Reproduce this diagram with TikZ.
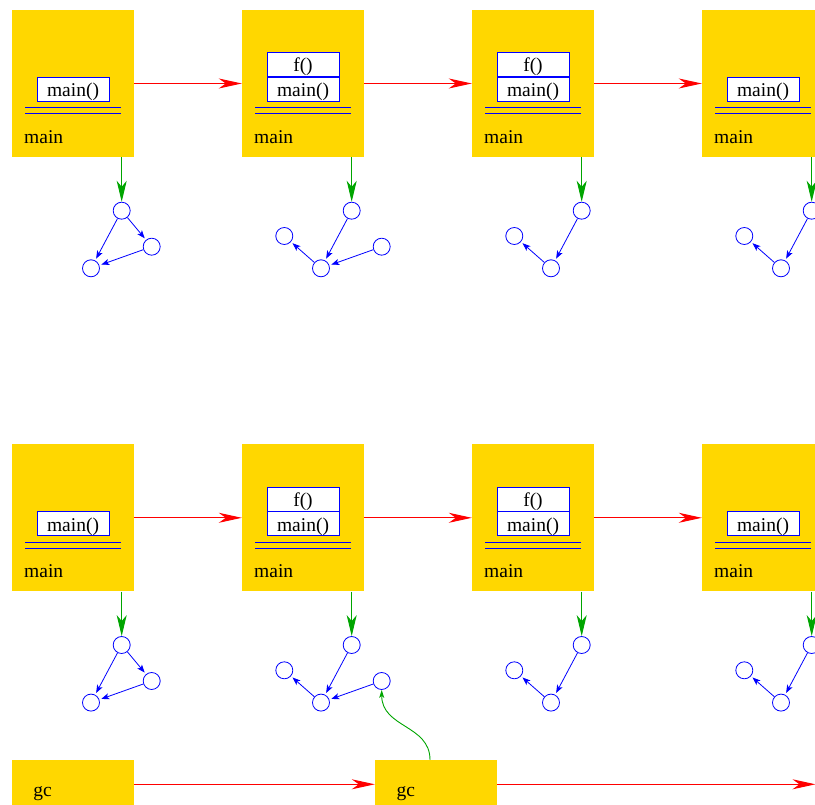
\documentclass[tikz,border=0pt]{standalone}
\usepackage{fontspec}
\setmainfont{Liberation Serif}
\usetikzlibrary{arrows.meta}
\definecolor{boxyellow}{RGB}{255,215,0}
\definecolor{ptrgreen}{RGB}{0,165,0}
\begin{document}
\begin{tikzpicture}[x=1pt,y=-1pt,
  frame/.style={fill=boxyellow, draw=none, minimum width=122pt, minimum height=147pt, inner sep=0pt},
  gcbox/.style={fill=boxyellow, draw=none, minimum width=122pt, minimum height=90pt, inner sep=0pt},
  cell/.style={draw=blue, fill=white, line width=0.8pt, minimum width=72pt, minimum height=24pt, inner sep=0pt},
  celltext/.style={anchor=base, inner sep=0pt, font=\fontsize{19.5}{22}\selectfont},
  lbl/.style={anchor=base west, inner sep=0pt, font=\fontsize{19.5}{22}\selectfont},
  dbl/.style={draw=blue, line width=1pt},
  obj/.style={circle, draw=blue, line width=0.8pt, minimum size=17pt, inner sep=0pt},
  bluearr/.style={draw=blue, line width=0.8pt, -{Stealth[length=8pt,width=6pt,inset=2pt]}, shorten >=2pt},
  redarr/.style={draw=red, line width=1pt, -{Stealth[length=23pt,width=10pt,inset=7pt]}},
  grnarr/.style={draw=ptrgreen, line width=1pt, -{Stealth[length=21pt,width=10pt,inset=6pt]}},
  gcarr/.style={draw=ptrgreen, line width=0.9pt, -{Stealth[length=8pt,width=5pt,inset=2pt]}}]
\clip (0,0) rectangle (815,805);
% ---------- shapes and connectors ----------
\foreach \r/\yo in {0/0,1/434.3}{
  \foreach \i in {1,2,3,4}{
    \pgfmathsetmacro\xo{(\i-1)*230}
    \node[frame] (b\r\i) at ({73+\xo},{83.5+\yo}) {};
    \node[cell] (m\r\i) at ({73+\xo},{89.5+\yo}) {};
    \coordinate (dl\r\i) at ({25+\xo},{107.7+\yo});
    \coordinate (dr\r\i) at ({121+\xo},{107.7+\yo});
    \draw[dbl] (dl\r\i) -- (dr\r\i) ([yshift=-6.2pt]dl\r\i) -- ([yshift=-6.2pt]dr\r\i);
    \node[obj] (t\r\i) at ({121.7+\xo},{210.7+\yo}) {};
    \node[obj] (o\r\i) at ({91+\xo},{268.3+\yo}) {};
    \draw[grnarr] (b\r\i.south -| t\r\i.north) -- (t\r\i.north);
    \draw[bluearr] (t\r\i) -- (o\r\i);
  }
  \foreach \i in {2,3}{
    \node[cell, anchor=south] (f\r\i) at (m\r\i.north) {};
  }
  \foreach \i/\j in {1/2,2/3,3/4}{
    \draw[redarr] (b\r\i.east) -- (b\r\j.west);
  }
  \node[obj] (q\r1) at (151.7,{246.7+\yo}) {};
  \draw[bluearr] (t\r1) -- (q\r1);
  \draw[bluearr] (q\r1) -- (o\r1);
  \node[obj] (q\r2) at (381.7,{246.7+\yo}) {};
  \draw[bluearr] (q\r2) -- (o\r2);
  \foreach \i in {2,3,4}{
    \pgfmathsetmacro\xo{(\i-1)*230}
    \node[obj] (l\r\i) at ({54.3+\xo},{236+\yo}) {};
    \draw[bluearr] (o\r\i) -- (l\r\i);
  }
}
\node[gcbox] (g1) at (73,805) {};
\node[gcbox] (g2) at (436,805) {};
\coordinate (gend) at (815.5,784.3);
\draw[redarr] ([yshift=20.7pt]g1.east) -- ([yshift=20.7pt]g2.west);
\draw[redarr] ([yshift=20.7pt]g2.east) -- (gend);
\draw[gcarr] ([xshift=-6pt]g2.north) .. controls +(0,-35) and +(0,38) .. (q12.south);
% ---------- texts ----------
\foreach \r/\yo in {0/0,1/434.3}{
  \foreach \i in {1,2,3,4}{
    \pgfmathsetmacro\xo{(\i-1)*230}
    \node[lbl] (lab\r\i) at ({24+\xo},{143.3+\yo}) {main};
    \node[celltext] (mt\r\i) at ([yshift=-7.4pt]m\r\i.center) {main()};
  }
  \foreach \i in {2,3}{
    \node[celltext] (ft\r\i) at ([yshift=-7.2pt]f\r\i.center) {f()};
  }
}
\node[lbl] (gl1) at (33.3,796.7) {gc};
\node[lbl] (gl2) at (396.3,796.7) {gc};
\end{tikzpicture}
\end{document}
